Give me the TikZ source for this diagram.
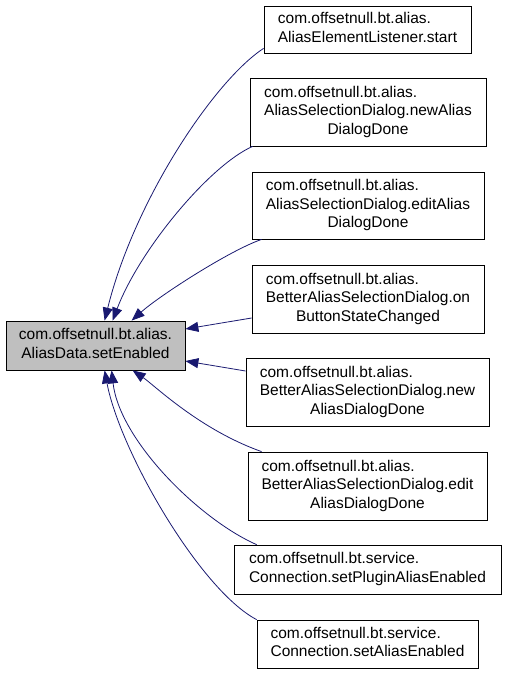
\documentclass[tikz,border=0pt]{standalone}
\usepackage{fontspec}
\setmainfont{Liberation Sans}
\usetikzlibrary{arrows.meta}
\definecolor{midnightblue}{RGB}{25,25,112}
\newcommand{\twolines}[2]{\begin{tabular}{@{}l@{}}#1\\\multicolumn{1}{@{}c@{}}{#2}\end{tabular}}
\newcommand{\threelines}[3]{\begin{tabular}{@{}l@{}}#1\\#2\\\multicolumn{1}{@{}c@{}}{#3}\end{tabular}}
\begin{document}
\begin{tikzpicture}[x=1pt,y=-1pt,
  fn/.style={draw=black, line width=0.8pt, inner sep=0pt, font=\fontsize{15.5}{18.5}\selectfont},
  callee/.style={fn, fill=black!25},
  call/.style={midnightblue, line width=0.8pt, -{Triangle[length=13pt,width=10pt]}}]
\useasboundingbox (0,0) rectangle (507,675);
\node[callee, minimum width=179pt, minimum height=49pt] (setEnabled) at (95.5,345.5) {\twolines{com.offsetnull.bt.alias.}{AliasData.setEnabled}};
\node[fn, minimum width=207pt, minimum height=47pt] (start) at (367.5,29.5) {\twolines{com.offsetnull.bt.alias.}{AliasElementListener.start}};
\node[fn, minimum width=236pt, minimum height=68pt] (newDone) at (368,112) {\threelines{com.offsetnull.bt.alias.}{AliasSelectionDialog.newAlias}{DialogDone}};
\node[fn, minimum width=232pt, minimum height=67pt] (editDone) at (368,205.5) {\threelines{com.offsetnull.bt.alias.}{AliasSelectionDialog.editAlias}{DialogDone}};
\node[fn, minimum width=232pt, minimum height=68pt] (btnChanged) at (368,299) {\threelines{com.offsetnull.bt.alias.}{BetterAliasSelectionDialog.on}{ButtonStateChanged}};
\node[fn, minimum width=243pt, minimum height=68pt] (betterNew) at (367.5,392) {\threelines{com.offsetnull.bt.alias.}{BetterAliasSelectionDialog.new}{AliasDialogDone}};
\node[fn, minimum width=239pt, minimum height=68pt] (betterEdit) at (367.5,486) {\threelines{com.offsetnull.bt.alias.}{BetterAliasSelectionDialog.edit}{AliasDialogDone}};
\node[fn, minimum width=267pt, minimum height=49pt] (pluginEnabled) at (367.5,569.5) {\twolines{com.offsetnull.bt.service.}{Connection.setPluginAliasEnabled}};
\node[fn, minimum width=221pt, minimum height=48pt] (aliasEnabled) at (367.5,644) {\twolines{com.offsetnull.bt.service.}{Connection.setAliasEnabled}};
\draw[call] ([yshift=5pt]start.south west) .. controls +(-49,32) and +(30,-121) .. ([xshift=99pt]setEnabled.north west);
\draw[call] ([xshift=3pt]newDone.south west) .. controls +(-43,19) and +(27,-71) .. ([xshift=107pt]setEnabled.north west);
\draw[call] ([xshift=10pt]editDone.south west) .. controls +(-32,11) and +(28,-25) .. ([xshift=126pt]setEnabled.north west);
\draw[call] ([yshift=-19pt]btnChanged.west) -- ([yshift=16.5pt]setEnabled.east);
\draw[call] ([yshift=21pt]betterNew.west) -- ([yshift=-15.5pt]setEnabled.east);
\draw[call] ([xshift=14pt]betterEdit.north west) .. controls +(-62,-22) and +(22,15) .. ([xshift=127pt]setEnabled.south west);
\draw[call] ([xshift=23pt]pluginEnabled.north west) .. controls +(-57,-25) and +(8,70) .. ([xshift=106pt]setEnabled.south west);
\draw[call] (aliasEnabled.north west) .. controls +(-57,-30) and +(15,80) .. ([xshift=99pt]setEnabled.south west);
\end{tikzpicture}
\end{document}
